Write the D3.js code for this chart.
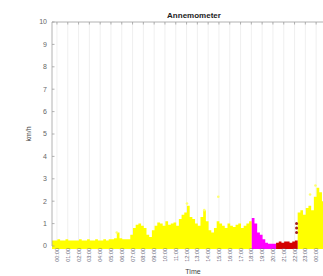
<!DOCTYPE html>
<html><head><meta charset="utf-8">
<script src="https://cdn.jsdelivr.net/npm/d3@7"></script>
<style>html,body{margin:0;padding:0;background:#fff;overflow:hidden}svg{display:block}</style>
</head><body>
<script>
// ---- data (hours from start of axis, km/h) ----
const tickLabels = ["00:00","01:00","02:00","03:00","04:00","05:00","06:00","07:00","08:00","09:00","10:00","11:00","12:00","13:00","14:00","15:00","16:00","17:00","18:00","19:00","20:00","21:00","22:00","23:00","00:00"];
const tickStart = 0.46;
const step = 0.25;
const yellow1Start = 0;
const yellow1 = [0.25,0.25,0.3,0.25, 0.25,0.3,0.25,0.25, 0.25,0.25,0.3,0.25, 0.25,0.3,0.25,0.25,
  0.3,0.25,0.25,0.3, 0.25,0.3,0.3,0.35, 0.6,0.35,0.3,0.3, 0.3,0.5,0.8,0.95, 1.0,0.9,0.8,0.5,
  0.4,0.7,0.9,1.05, 1.0,0.9,1.1,0.95, 1.0,1.05,0.9,1.2, 1.4,1.5,1.8,1.3, 1.2,1.0,0.9,1.3,
  1.6,1.1,0.7,0.6, 0.8,1.1,1.0,0.9, 0.8,1.0,0.9,0.85, 0.95,1.0,0.8,0.9, 1.0,1.1];
const magentaStart = 18.5;
const magenta = [1.25,1.0,0.6,0.5,0.3,0.15,0.1,0.1,0.1];
const redStart = 20.75;
const red = [0.15,0.2,0.15,0.2,0.2,0.15,0.2,0.25];
const darkRedPts = [[22.65,1.0],[22.65,0.8],[22.65,0.6]];
const yellow2Start = 22.75;
const yellow2 = [1.5,1.6,1.4,1.7,1.8,1.6,2.2,2.6,2.4,2.0,1.8,1.7,1.9,2.0,1.8];
const sparseYellow = [[6.0,0.6],[12.5,1.9],[15.4,2.2],[14.1,1.6],[24.4,2.7],[23.9,2.3]];
const yTicks = [0,1,2,3,4,5,6,7,8,9,10];

const W = 323, H = 276;
const m = {left: 52, top: 22, right: 336, bottom: 246};
const svg = d3.select("body").append("svg").attr("width", W).attr("height", H)
  .style("font-family", "'Liberation Sans', Arial, sans-serif");

const x = d3.scaleLinear().domain([0, 26.3]).range([m.left, m.right]);
const y = d3.scaleLinear().domain([0, 10]).range([m.bottom, m.top]);

const tickVals = tickLabels.map((d, i) => tickStart + i);

// grid
svg.append("g").selectAll("line").data(tickVals).join("line")
  .attr("x1", d => x(d)).attr("x2", d => x(d))
  .attr("y1", m.top).attr("y2", m.bottom)
  .attr("stroke", "#ebebeb").attr("stroke-width", 0.8);

function series(start, vals) {
  const pts = vals.map((v, i) => [start + i * step, v]);
  pts.push([start + vals.length * step, vals[vals.length - 1]]);
  return pts;
}
const area = d3.area().curve(d3.curveStepAfter)
  .x(d => x(d[0])).y0(y(0) + 3).y1(d => y(d[1]));

svg.append("path").datum(series(yellow1Start, yellow1)).attr("d", area).attr("fill", "#ffff00");
svg.append("path").datum(series(yellow2Start, yellow2)).attr("d", area).attr("fill", "#ffff00");
svg.append("path").datum(series(magentaStart, magenta)).attr("d", area).attr("fill", "#ff00ff");
svg.append("path").datum(series(redStart, red)).attr("d", area).attr("fill", "#d40000");
svg.append("g").selectAll("circle").data(sparseYellow).join("circle")
  .attr("cx", d => x(d[0])).attr("cy", d => y(d[1])).attr("r", 1.3).attr("fill", "#ffff70");
svg.append("g").selectAll("circle").data(darkRedPts).join("circle")
  .attr("cx", d => x(d[0])).attr("cy", d => y(d[1])).attr("r", 1.5).attr("fill", "#a02020");

// axes
const axisCol = "#a0a0a0";
svg.append("line").attr("x1", m.left).attr("x2", W).attr("y1", m.top).attr("y2", m.top)
  .attr("stroke", axisCol).attr("stroke-width", 0.8);
svg.append("line").attr("x1", m.left).attr("x2", m.left).attr("y1", m.top).attr("y2", m.bottom)
  .attr("stroke", axisCol).attr("stroke-width", 0.8);
svg.append("g").selectAll("line").data(tickVals).join("line")
  .attr("x1", d => x(d)).attr("x2", d => x(d)).attr("y1", m.top).attr("y2", m.top + 2.5)
  .attr("stroke", axisCol).attr("stroke-width", 0.8);
svg.append("g").selectAll("line").data(yTicks).join("line")
  .attr("x1", m.left).attr("x2", m.left + 2.5).attr("y1", d => y(d)).attr("y2", d => y(d))
  .attr("stroke", axisCol).attr("stroke-width", 0.8);

// y tick labels
svg.append("g").selectAll("text").data(yTicks).join("text")
  .attr("x", m.left - 5).attr("y", d => y(d)).attr("dy", "0.35em")
  .attr("text-anchor", "end").attr("font-size", 7).attr("fill", "#666").text(d => d);

// x tick labels rotated
svg.append("g").selectAll("text").data(tickLabels).join("text")
  .attr("transform", (d, i) => `translate(${x(tickVals[i]) + 2},${m.bottom + 2}) rotate(-90)`)
  .attr("text-anchor", "end").attr("font-size", 5.5).attr("fill", "#667").text(d => d);

// labels
svg.append("text").attr("x", 194).attr("y", 18).attr("text-anchor", "middle")
  .attr("font-size", 8).attr("font-weight", "bold").attr("fill", "#222").text("Annemometer");
svg.append("text").attr("x", 193).attr("y", 274).attr("text-anchor", "middle")
  .attr("font-size", 7).attr("fill", "#444").text("Time");
svg.append("text").attr("transform", `translate(31,${(m.top + m.bottom) / 2}) rotate(-90)`)
  .attr("text-anchor", "middle").attr("font-size", 7).attr("fill", "#444").text("km/h");
</script>
</body></html>
